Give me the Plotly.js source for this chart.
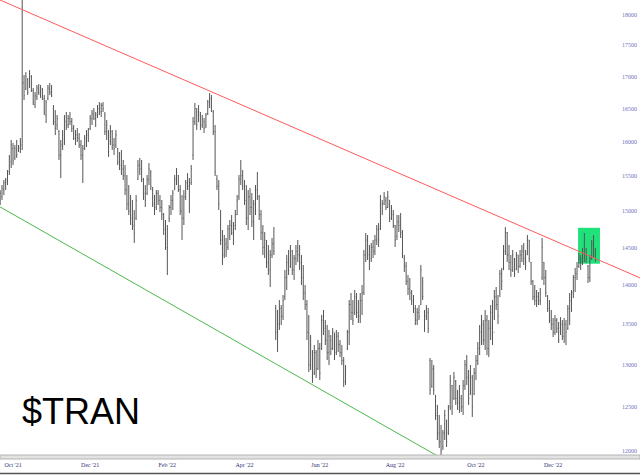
<!DOCTYPE html>
<html>
<head>
<meta charset="utf-8">
<script src="https://cdn.plot.ly/plotly-3.0.1.min.js"></script>
<style>html,body{margin:0;padding:0;background:#fff;}#chart{width:640px;height:475px;}</style>
</head>
<body>
<div id="chart"></div>
<script>
// ---------- DATA ----------
const symbol = '$TRAN';
const firstDate = '2021-09-22';
const marketHolidays = ['2021-11-25','2021-12-24','2022-01-17','2022-02-21','2022-04-15','2022-05-30',
  '2022-06-20','2022-07-04','2022-09-05','2022-11-24','2022-12-26','2023-01-02','2023-01-16'];

const highs = [
15296,15367,15439,15468,15583,15803,16025,15980,15950,16025,
15950,16054,18350,17023,17070,16976,17102,17023,16819,16757,
16866,16882,16866,16819,16710,16632,16866,16897,16866,16555,
16478,16402,16174,16025,16174,16402,16448,16402,16448,16356,
16250,16174,16204,16129,16025,15950,16099,16174,16204,16402,
16478,16509,16448,16555,16601,16586,16601,16448,16326,16174,
16250,16174,16054,16174,15906,15847,15877,15730,15656,15511,
15367,15225,15155,15014,15225,15730,15760,15730,15468,15367,
15511,15685,15583,15339,15225,15296,15296,15225,15155,14972,
14875,14806,15084,15225,15296,15511,15612,15511,15367,15225,
15296,15439,15539,15468,15656,16371,16586,16509,16555,16448,
16402,16356,16433,16632,16741,16710,16478,16250,15511,15439,
15014,14737,14669,14628,14806,14875,14944,14847,15014,15225,
15511,15730,15583,15439,15367,15296,15325,15253,15155,15367,
15554,15225,15014,14806,14710,14601,14533,14466,14628,14778,
13743,13680,13807,13743,13872,14199,14398,14466,14533,14466,
14398,14533,14601,14533,14398,14265,14002,13807,13616,13365,
13180,13241,13180,13303,13266,13616,13680,13553,13490,13428,
13365,13452,13390,13428,13403,13303,13241,13094,12997,13428,
13807,13898,13807,13937,13898,13807,13898,14002,14466,14696,
14669,14533,14560,14601,14669,14806,14833,15225,15155,15268,
15197,15282,15155,15084,15014,14806,14944,14944,14972,14737,
14398,14305,14133,14094,13937,13872,13743,13705,13743,14265,
14107,13680,13743,13705,13082,13058,12997,12640,12523,12407,
12292,12235,12465,12350,12523,12877,12758,12913,12817,12699,
12758,12640,12817,13058,13118,12937,12997,12877,12961,13118,
13278,13490,13616,13553,13680,13616,13553,13743,13807,13937,
13976,13872,14199,14226,14533,14778,14710,14533,14398,14466,
14358,14439,14398,14466,14533,14560,14466,14669,14601,14305,
14067,14002,13937,13911,13963,14628,14305,14199,13872,13807,
13680,13578,13616,13578,13528,13590,13553,13578,13553,13743,
13898,13937,14133,14226,14305,14425,14398,14493,14696,14493,
14265,14398,14601,14669,14493];

const lows = [
15084,15155,15225,15296,15367,15511,15612,15656,15730,15760,
15847,15832,15877,16632,16788,16710,16819,16757,16555,16509,
16632,16710,16663,16632,16402,16280,16632,16710,16679,16250,
16099,16174,15730,15468,15877,15950,16174,16204,16250,16144,
16025,15950,15995,15906,15730,15396,15877,15921,15995,16174,
16250,16326,16220,16356,16402,16371,16448,16099,16025,15774,
15950,15877,15803,15906,15656,15583,15511,15439,15225,15014,
14944,14806,14737,14560,14875,15439,15511,15410,15155,15056,
15225,15367,15296,15056,14944,15014,15084,14986,14875,14669,
14466,14133,14847,14944,15014,15296,15367,15268,14944,14601,
14806,15155,15296,14972,15367,15730,16250,16174,16296,16174,
16204,16129,16204,16402,16509,16448,16099,15497,15296,15014,
14533,14265,14358,14371,14466,14601,14669,14533,14737,14944,
15155,15367,15296,15084,14806,14737,14944,14778,14601,14944,
15155,14875,14601,14398,14358,14226,14133,13976,14358,14398,
13303,13155,13428,13490,13553,13807,13937,14133,14226,14133,
14067,14265,14305,14199,14002,13807,13680,13303,12913,12937,
12782,12877,12841,12937,12817,13180,13365,13241,13058,12997,
13118,13180,13058,13118,13155,13094,12997,12735,12758,13180,
13241,13553,13490,13616,13578,13515,13515,13616,13872,14305,
14331,14199,14305,14358,14398,14533,14506,14737,14944,15084,
15014,15042,14847,14875,14765,14506,14601,14710,14628,14358,
14173,14002,13872,13807,13743,13641,13490,13490,13553,13743,
13807,13403,13553,13390,12640,12723,12640,12350,12121,12031,
11953,12009,12121,12042,12178,12465,12407,12582,12523,12465,
12430,12442,12407,12699,12758,12523,12640,12384,12640,12817,
12997,13118,13241,13241,13180,13118,13094,13303,13241,13553,
13680,13503,13846,13937,14199,14398,14305,14199,14107,14173,
14107,14199,14160,14226,14305,14265,14199,14398,14305,14002,
13807,13743,13718,13743,13743,14067,14002,13846,13655,13515,
13428,13340,13365,13390,13266,13365,13303,13266,13241,13428,
13490,13655,13833,13911,14067,14226,14199,14265,14305,14292,
14028,14041,14331,14358,14305];

const opens = [
15150,15200,15300,15380,15420,15560,15700,15900,15760,15880,
15860,15900,15950,16900,16800,16950,16850,17000,16780,16560,
16680,16800,16700,16790,16650,16400,16650,16800,16750,16500,
16300,16250,16150,15800,15950,16050,16300,16250,16350,16300,
16200,16050,16100,16050,15950,15800,15900,16000,16100,16200,
16350,16400,16350,16400,16500,16450,16550,16400,16150,16150,
16000,16150,15950,15950,15900,15700,15650,15600,15500,15300,
15100,15000,14900,14800,14900,15450,15650,15600,15450,15250,
15250,15450,15550,15300,15100,15050,15250,15150,15050,14950,
14750,14500,14900,15050,15150,15300,15450,15500,15300,15000,
14900,15200,15400,15350,15400,15800,16300,16450,16300,16400,
16250,16300,16250,16420,16600,16650,16450,16150,15450,15350,
14950,14600,14400,14550,14500,14750,14800,14700,14800,14950,
15200,15450,15500,15350,15150,14900,15200,15050,14850,15100,
15300,15200,14950,14700,14500,14550,14300,14200,14400,14550,
13700,13400,13500,13700,13600,13850,14100,14300,14250,14450,
14200,14350,14450,14400,14300,14100,13900,13750,13400,13000,
13150,12900,13150,12950,13200,13200,13550,13450,13300,13150,
13300,13200,13400,13150,13350,13250,13150,13050,12800,13200,
13400,13750,13650,13650,13850,13650,13600,13800,13900,14400,
14600,14400,14350,14500,14450,14600,14750,14750,15100,15100,
15150,15050,15150,14900,14950,14800,14650,14850,14800,14700,
14350,14250,14050,13950,13900,13800,13700,13550,13650,13750,
14050,13650,13600,13650,13050,12750,12950,12600,12400,12200,
12100,12050,12200,12350,12200,12500,12750,12600,12800,12600,
12550,12600,12500,12750,13000,12850,12650,12850,12650,12900,
13050,13200,13400,13500,13300,13550,13200,13450,13650,13400,
13850,13750,13900,14150,14200,14450,14700,14400,14300,14200,
14350,14200,14400,14250,14400,14450,14350,14400,14600,14300,
14050,13850,13800,13850,13800,14100,14300,14100,13850,13700,
13550,13500,13400,13550,13450,13400,13500,13350,13500,13450,
13700,13800,13900,14100,14150,14250,14350,14300,14450,14400,
14250,14100,14350,14550,14450];

const closes = [
15250,15320,15400,15440,15550,15760,15950,15720,15900,15800,
15930,16000,16900,16700,17000,16750,17050,16800,16600,16700,
16820,16750,16820,16680,16450,16600,16820,16750,16700,16300,
16200,16350,15800,15950,16100,16350,16250,16350,16300,16200,
16050,16100,16050,15950,15800,15900,16050,16120,16180,16350,
16420,16350,16400,16500,16450,16550,16500,16150,16250,15850,
16150,15950,15900,16100,15700,15650,15600,15500,15300,15100,
15000,14900,14800,14700,15150,15650,15600,15450,15250,15150,
15450,15600,15350,15100,15000,15250,15150,15050,14950,14750,
14550,14750,15050,15150,15250,15450,15550,15300,15000,14900,
15200,15400,15350,15400,15600,16300,16500,16250,16450,16250,
16350,16200,16400,16600,16650,16500,16150,15550,15350,15100,
14600,14350,14600,14450,14750,14800,14700,14800,14950,15150,
15450,15500,15350,15150,14900,15200,15050,14850,15100,15300,
15200,14950,14700,14500,14600,14300,14200,14400,14550,14450,
13400,13500,13700,13600,13800,14100,14300,14200,14450,14200,
14350,14450,14400,14300,14100,13900,13750,13400,13000,13250,
12900,13150,12950,13200,12900,13550,13450,13300,13150,13350,
13200,13400,13150,13350,13250,13150,13050,12800,12950,13400,
13750,13650,13550,13850,13650,13600,13800,13900,14400,14600,
14400,14300,14500,14450,14600,14750,14600,15150,15000,15200,
15050,15200,14900,15000,14800,14600,14850,14800,14700,14400,
14250,14050,13950,13900,13800,13700,13550,13650,13600,14200,
13850,13450,13700,13450,12700,12950,12700,12400,12200,12100,
12000,12200,12400,12100,12450,12800,12500,12850,12600,12550,
12700,12500,12750,13000,12850,12600,12900,12500,12900,13050,
13200,13400,13550,13300,13550,13200,13450,13650,13350,13850,
13750,13600,14150,14050,14450,14700,14400,14300,14200,14400,
14150,14400,14250,14400,14450,14350,14300,14600,14350,14050,
13850,13800,13850,13800,13900,14500,14100,13900,13700,13550,
13500,13400,13550,13450,13300,13500,13350,13500,13400,13700,
13800,13900,14100,14150,14250,14350,14300,14450,14400,14350,
14100,14350,14550,14450,14400];

// trendlines (date, price) and highlight box
const resistanceDates = ['2021-09-21 22:00', '2023-02-09 07:00'];
const resistancePrices = [18255, 14095];
const supportDates = ['2021-09-21 22:00', '2022-09-06 06:00'];
const supportPrices = [15058, 11917];
const boxDates = ['2022-12-20 14:00', '2023-01-09 12:00'];
const boxPrices = [14282, 14768];

// axes
const xRange = ['2021-09-21 22:00', '2023-02-09 07:00'];
const xTickDates = ['2021-10-01','2021-12-01','2022-02-01','2022-04-01','2022-06-01','2022-08-01','2022-10-03','2022-12-01'];
const xTickLabels = ["Oct '21","Dec '21","Feb '22","Apr '22","Jun '22","Aug '22","Oct '22","Dec '22"];
const yTicks = [12000,12500,13000,13500,14000,14500,15000,15500,16000,16500,17000,17500,18000];
const yTickLabels = ['12000','12500','13000','13500','14000','14500','15000','15500','16000','16500','17000','17500','18000'];
const yRange = [11953, 18255];

// ---------- trading-day calendar ----------
function tradingDays(start, n) {
  const out = [];
  const d = new Date(start + 'T00:00:00Z');
  while (out.length < n) {
    const dow = d.getUTCDay();
    const s = d.toISOString().slice(0, 10);
    if (dow !== 0 && dow !== 6 && marketHolidays.indexOf(s) < 0) out.push(s);
    d.setUTCDate(d.getUTCDate() + 1);
  }
  return out;
}
const dates = tradingDays(firstDate, highs.length);

// ---------- traces ----------
const traces = [
  {
    type: 'scatter', mode: 'lines', hoverinfo: 'skip',
    x: resistanceDates, y: resistancePrices,
    line: {color: '#ff5a5a', width: 1}
  },
  {
    type: 'scatter', mode: 'lines', hoverinfo: 'skip',
    x: supportDates, y: supportPrices,
    line: {color: '#4cb84c', width: 1}
  },
  {
    type: 'ohlc', x: dates, open: opens, high: highs, low: lows, close: closes,
    increasing: {line: {color: '#555555', width: 1}},
    decreasing: {line: {color: '#555555', width: 1}},
    tickwidth: 0.3, hoverinfo: 'skip'
  }
];

const layout = {
  width: 640, height: 475,
  margin: {l: 0, r: 0, t: 0, b: 20},
  paper_bgcolor: '#ffffff', plot_bgcolor: '#ffffff',
  showlegend: false,
  xaxis: {
    type: 'date', range: xRange,
    rangebreaks: [{bounds: ['sat', 'mon']}, {values: marketHolidays}],
    rangeslider: {visible: false},
    tickvals: xTickDates, ticktext: xTickLabels,
    ticks: '', showgrid: false, zeroline: false, showline: false,
    ticklabelstandoff: 5,
    tickfont: {family: 'Liberation Serif', size: 6, color: '#333377'}
  },
  yaxis: {
    type: 'log', range: [Math.log10(yRange[0]), Math.log10(yRange[1])],
    side: 'right', ticklabelposition: 'inside',
    tickvals: yTicks, ticktext: yTickLabels,
    ticks: '', showgrid: false, zeroline: false, showline: false,
    tickfont: {family: 'Liberation Serif', size: 6, color: '#7070c0'}
  },
  shapes: [
    {type: 'rect', xref: 'x', yref: 'y', layer: 'below',
     x0: boxDates[0], x1: boxDates[1], y0: boxPrices[0], y1: boxPrices[1],
     fillcolor: '#20e27a', line: {width: 0}},
    {type: 'rect', xref: 'paper', yref: 'paper', x0: 0, x1: 1, y0: -4 / 455, y1: 0,
     fillcolor: '#e2e2e2', line: {color: '#b4b4b4', width: 1}, layer: 'above'},
    {type: 'line', xref: 'paper', yref: 'paper', x0: 0, x1: 1, y0: -18.5 / 455, y1: -18.5 / 455,
     line: {color: '#555555', width: 1.5}}
  ],
  annotations: [
    {xref: 'paper', yref: 'paper', x: 20 / 640, y: (455 - 411) / 455,
     xanchor: 'left', yanchor: 'middle', showarrow: false, text: symbol,
     font: {family: 'Liberation Sans', size: 36, color: '#000000'}}
  ]
};

Plotly.newPlot('chart', traces, layout, {displayModeBar: false, staticPlot: true});
</script>
</body>
</html>
